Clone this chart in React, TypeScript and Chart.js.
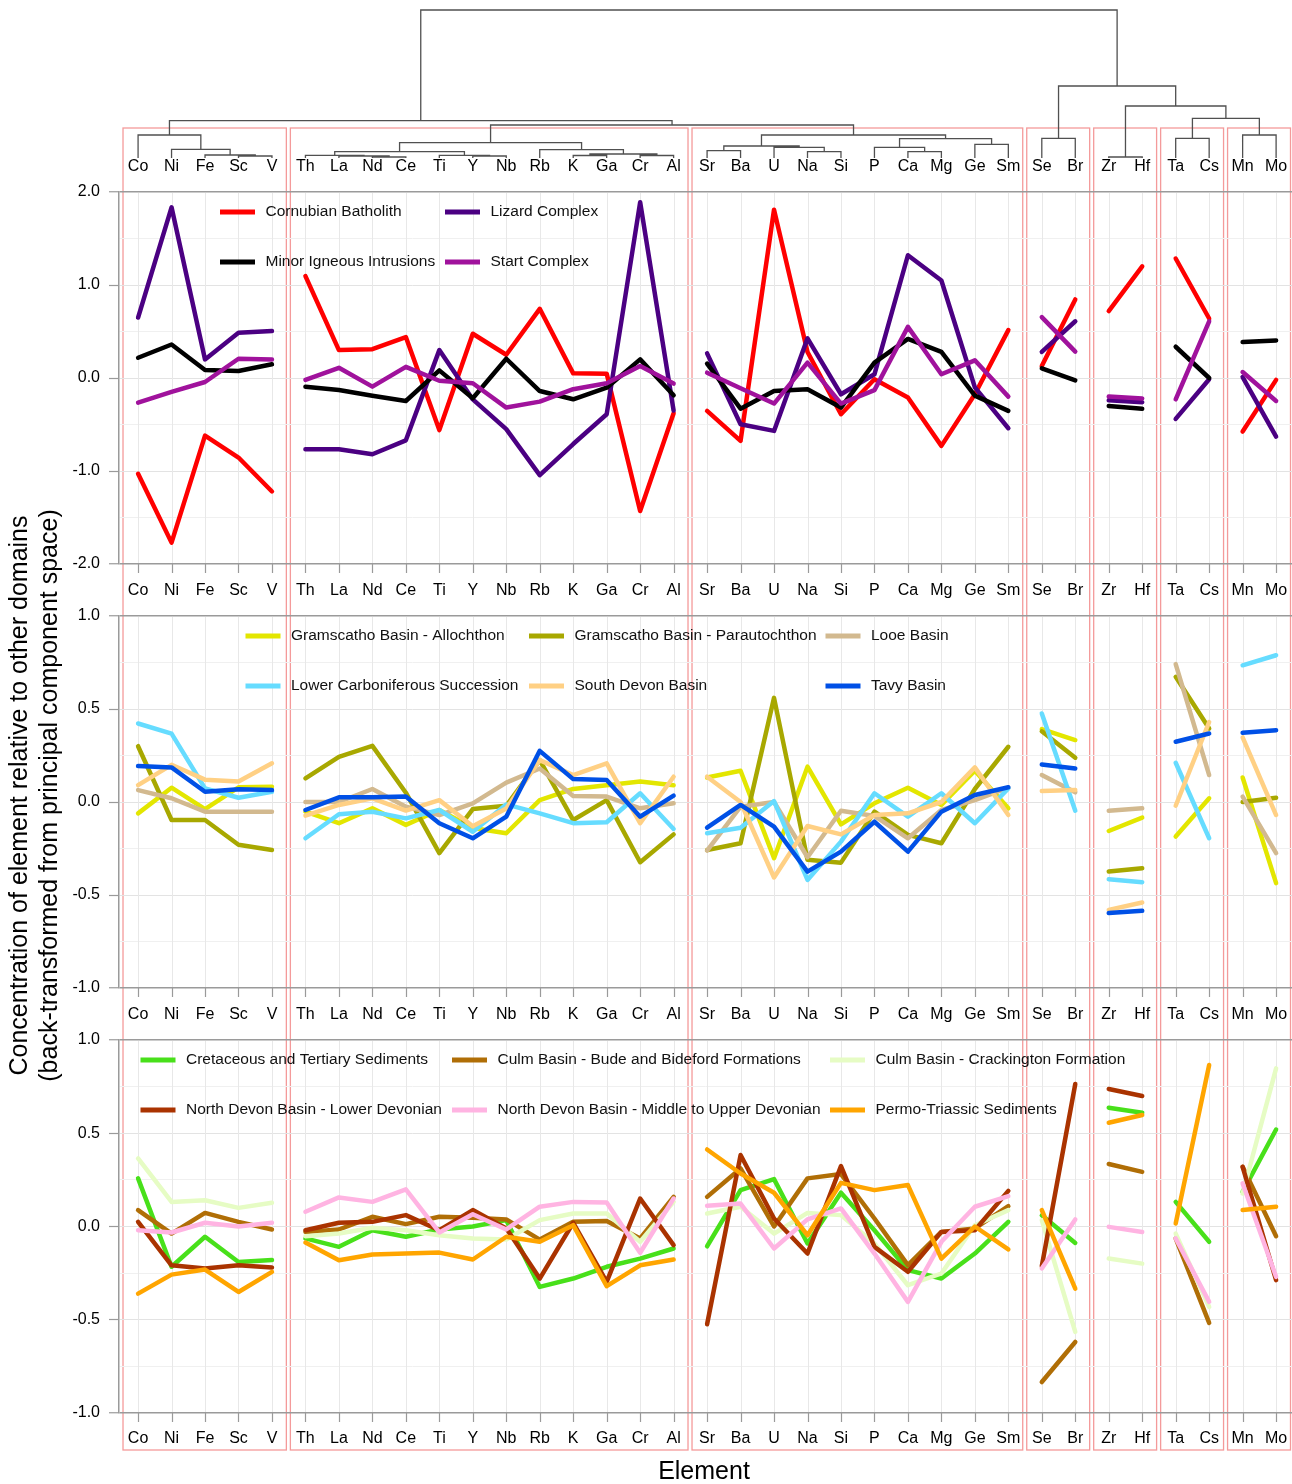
import React, { useEffect, useRef } from 'react';
import { Chart, registerables } from 'chart.js';

Chart.register(...registerables);

const FONT = '"Liberation Sans", Arial, Helvetica, sans-serif';
const AXIS_W = 119;

// ---------------- categories ----------------
const elements = [
  'Co', 'Ni', 'Fe', 'Sc', 'V',
  'Th', 'La', 'Nd', 'Ce', 'Ti', 'Y', 'Nb', 'Rb', 'K', 'Ga', 'Cr', 'Al',
  'Sr', 'Ba', 'U', 'Na', 'Si', 'P', 'Ca', 'Mg', 'Ge', 'Sm',
  'Se', 'Br',
  'Zr', 'Hf',
  'Ta', 'Cs',
  'Mn', 'Mo',
];

// element clusters (first index, last index)
const groupRanges: [number, number][] = [
  [0, 4], [5, 16], [17, 26], [27, 28], [29, 30], [31, 32], [33, 34],
];

// dendrogram merges: [left, right, height]; negative = leaf (-(index+1)), positive = earlier merge (1-based)
const dendroMerges: [number, number, number][] = [
  [-4, -5, 0.02], [-3, 1, 0.03], [-2, 2, 0.087], [-1, 3, 0.23],
  [-8, -9, 0.01], [-7, 5, 0.02], [-6, 6, 0.027], [-11, -12, 0.02], [-10, 8, 0.027], [7, 9, 0.063],
  [-14, -15, 0.025], [-16, -17, 0.025], [11, 12, 0.04], [-13, 13, 0.083], [10, 14, 0.153],
  [-18, -19, 0.073], [-21, -22, 0.063], [-20, 17, 0.107], [16, 18, 0.12],
  [-24, -25, 0.063], [-23, 20, 0.107], [-26, -27, 0.137], [21, 22, 0.193], [19, 23, 0.23],
  [15, 24, 0.33], [4, 25, 0.373],
  [-28, -29, 0.197], [-30, -31, 0.01], [-32, -33, 0.197], [-34, -35, 0.23],
  [29, 30, 0.397], [28, 31, 0.52], [27, 32, 0.72], [26, 33, 1.48],
];

// ---------------- panel 1 ----------------
const cornubianBatholith = [-1.03, -1.77, -0.62, -0.855, -1.22,
  1.095, 0.30, 0.31, 0.44, -0.56, 0.476, 0.25, 0.744, 0.05, 0.047, -1.43, -0.38,
  -0.354, -0.676, 1.81, 0.28, -0.39, -0.014, -0.21, -0.73, -0.175, 0.515,
  0.13, 0.845, 0.72, 1.2, 1.285, 0.64, -0.576, -0.02];
const lizardComplex = [0.65, 1.835, 0.20, 0.487, 0.505,
  -0.766, -0.766, -0.82, -0.67, 0.30, -0.23, -0.55, -1.045, -0.71, -0.39, 1.89, -0.35,
  0.265, -0.497, -0.569, 0.426, -0.175, 0.04, 1.32, 1.048, -0.10, -0.54,
  0.28, 0.61, -0.24, -0.26, -0.44, -0.014, 0.01, -0.63];
const minorIgneousIntrusions = [0.218, 0.36, 0.086, 0.075, 0.147,
  -0.093, -0.129, -0.19, -0.247, 0.082, -0.218, 0.207, -0.14, -0.229, -0.104, 0.20, -0.186,
  0.154, -0.33, -0.14, -0.12, -0.318, 0.165, 0.42, 0.28, -0.19, -0.354,
  0.104, -0.025, -0.30, -0.33, 0.336, 0.0, 0.386, 0.404];
const startComplex = [-0.265, -0.15, -0.043, 0.207, 0.20,
  -0.02, 0.11, -0.093, 0.12, -0.03, -0.057, -0.318, -0.254, -0.12, -0.057, 0.13, -0.06,
  0.057, -0.11, -0.275, 0.165, -0.275, -0.13, 0.55, 0.04, 0.19, -0.2,
  0.655, 0.283, -0.20, -0.22, -0.229, 0.61, 0.064, -0.247];

// ---------------- panel 2 ----------------
const gramscathoAllochthon = [-0.061, 0.077, -0.038, 0.079, 0.082,
  -0.052, -0.114, -0.034, -0.123, -0.043, -0.14, -0.168, 0.01, 0.07, 0.09, 0.11, 0.09,
  0.132, 0.168, -0.302, 0.19, -0.12, -0.007, 0.077, -0.016, 0.168, -0.034,
  0.392, 0.333, -0.156, -0.084, -0.186, 0.02, 0.132, -0.436];
const gramscathoParautochthon = [0.30, -0.097, -0.097, -0.23, -0.258,
  0.127, 0.243, 0.302, 0.05, -0.275, -0.038, -0.02, 0.225, -0.097, 0.01, -0.324, -0.174,
  -0.258, -0.222, 0.56, -0.311, -0.326, -0.052, -0.177, -0.222, 0.07, 0.297,
  0.38, 0.238, -0.374, -0.356, 0.673, 0.395, 0.0, 0.023];
const looeBasin = [0.064, 0.02, -0.052, -0.052, -0.052,
  0.0, 0.0, 0.07, -0.025, -0.07, -0.007, 0.104, 0.18, 0.032, 0.029, -0.034, -0.007,
  -0.261, -0.025, 0.0, -0.297, -0.047, -0.075, -0.195, -0.043, 0.01, 0.077,
  0.145, 0.052, -0.047, -0.034, 0.741, 0.145, 0.029, -0.275];
const lowerCarboniferous = [0.422, 0.368, 0.073, 0.023, 0.055,
  -0.195, -0.066, -0.052, -0.088, -0.043, -0.16, -0.013, -0.061, -0.114, -0.109, 0.047, -0.145,
  -0.168, -0.138, 0.005, -0.419, -0.213, 0.047, -0.079, 0.047, -0.114, 0.073,
  0.476, -0.047, -0.415, -0.431, 0.211, -0.195, 0.735, 0.789];
const southDevonBasin = [0.091, 0.2, 0.12, 0.11, 0.208,
  -0.073, -0.016, 0.02, -0.046, 0.01, -0.13, -0.035, 0.225, 0.145, 0.208, -0.114, 0.136,
  0.136, 0.0, -0.406, -0.129, -0.174, -0.07, -0.061, 0.0, 0.186, -0.07,
  0.059, 0.064, -0.58, -0.54, -0.02, 0.43, 0.347, -0.07];
const tavyBasin = [0.193, 0.186, 0.055, 0.068, 0.064,
  -0.043, 0.025, 0.025, 0.029, -0.114, -0.195, -0.079, 0.275, 0.123, 0.118, -0.079, 0.034,
  -0.138, -0.016, -0.132, -0.374, -0.267, -0.106, -0.267, -0.052, 0.038, 0.079,
  0.202, 0.18, -0.597, -0.585, 0.324, 0.368, 0.372, 0.386];

// ---------------- panel 3 ----------------
const cretaceousTertiary = [0.258, -0.216, -0.055, -0.19, -0.18,
  -0.064, -0.109, -0.02, -0.055, -0.016, 0.0, 0.034, -0.324, -0.279, -0.216, -0.172, -0.118,
  -0.106, 0.195, 0.254, -0.091, 0.181, -0.02, -0.234, -0.279, -0.145, 0.025,
  0.06, -0.088, 0.637, 0.61, 0.132, -0.082, 0.186, 0.52];
const culmBudeBideford = [0.088, -0.038, 0.073, 0.025, -0.016,
  -0.029, -0.016, 0.052, 0.013, 0.052, 0.047, 0.038, -0.07, 0.025, 0.029, -0.064, 0.159,
  0.159, 0.311, 0.0, 0.258, 0.281, 0.043, -0.207, -0.029, -0.01, 0.109,
  -0.834, -0.619, 0.335, 0.293, -0.064, -0.517, 0.32, -0.052];
const culmCrackington = [0.365, 0.132, 0.141, 0.1, 0.127,
  -0.052, -0.038, -0.007, -0.02, -0.047, -0.064, -0.07, 0.034, 0.07, 0.07, -0.082, 0.132,
  0.07, 0.106, -0.038, 0.073, 0.061, -0.091, -0.315, -0.252, 0.007, 0.088,
  0.034, -0.565, -0.172, -0.199, -0.038, -0.431, 0.177, 0.848];
const northDevonLower = [0.025, -0.208, -0.225, -0.208, -0.22,
  -0.02, 0.02, 0.025, 0.061, -0.02, 0.088, -0.01, -0.279, 0.02, -0.297, 0.15, -0.1,
  -0.524, 0.383, 0.043, -0.145, 0.324, -0.109, -0.243, -0.029, -0.02, 0.191,
  -0.213, 0.764, 0.737, 0.70, null, null, 0.32, -0.288];
const northDevonMiddleUpper = [-0.02, -0.032, 0.02, 0.0, 0.02,
  0.079, 0.156, 0.132, 0.199, -0.032, 0.066, -0.016, 0.106, 0.132, 0.129, -0.141, 0.15,
  0.111, 0.123, -0.118, 0.038, 0.097, -0.145, -0.404, -0.082, 0.106, 0.163,
  -0.225, 0.038, -0.002, -0.029, -0.064, -0.404, 0.231, -0.27];
const permoTriassic = [-0.36, -0.258, -0.231, -0.351, -0.243,
  -0.086, -0.181, -0.15, -0.145, -0.14, -0.177, -0.055, -0.082, 0.007, -0.32, -0.208, -0.177,
  0.413, 0.284, 0.181, -0.047, 0.234, 0.195, 0.222, -0.172, 0.0, -0.123,
  0.088, -0.333, 0.556, 0.598, 0.016, 0.866, 0.088, 0.106];

// ---------------- tick labels ----------------
const panel1Ticks = { min: -2, max: 2, step: 0.5, labelStep: 1 };
const panel23Ticks = { min: -1, max: 1, step: 0.25, labelStep: 0.5 };

const yTitle1 = 'Concentration of element relative to other domains';
const yTitle2 = '(back-transformed from principal component space)';
const xTitle = 'Element';

type Series = { name: string; values: (number | null)[]; color: string };
type Panel = { axis: string; series: Series[]; legendCols: number[] };

const panels: Panel[] = [
  {
    axis: 'y1', legendCols: [220, 445],
    series: [
      { name: 'Cornubian Batholith', values: cornubianBatholith, color: '#ff0000' },
      { name: 'Lizard Complex', values: lizardComplex, color: '#4b0082' },
      { name: 'Minor Igneous Intrusions', values: minorIgneousIntrusions, color: '#000000' },
      { name: 'Start Complex', values: startComplex, color: '#a0129c' },
    ],
  },
  {
    axis: 'y2', legendCols: [245.5, 529, 825.5],
    series: [
      { name: 'Gramscatho Basin - Allochthon', values: gramscathoAllochthon, color: '#e3e600' },
      { name: 'Gramscatho Basin - Parautochthon', values: gramscathoParautochthon, color: '#a8a800' },
      { name: 'Looe Basin', values: looeBasin, color: '#d2b98f' },
      { name: 'Lower Carboniferous Succession', values: lowerCarboniferous, color: '#66dcff' },
      { name: 'South Devon Basin', values: southDevonBasin, color: '#ffd084' },
      { name: 'Tavy Basin', values: tavyBasin, color: '#0050e6' },
    ],
  },
  {
    axis: 'y3', legendCols: [140.5, 452, 830],
    series: [
      { name: 'Cretaceous and Tertiary Sediments', values: cretaceousTertiary, color: '#48e01a' },
      { name: 'Culm Basin - Bude and Bideford Formations', values: culmBudeBideford, color: '#b06e06' },
      { name: 'Culm Basin - Crackington Formation', values: culmCrackington, color: '#e6fcc4' },
      { name: 'North Devon Basin - Lower Devonian', values: northDevonLower, color: '#aa3300' },
      { name: 'North Devon Basin - Middle to Upper Devonian', values: northDevonMiddleUpper, color: '#ffb4e2' },
      { name: 'Permo-Triassic Sediments', values: permoTriassic, color: '#ffa500' },
    ],
  },
];

// ---------------- helpers ----------------
const groupEnds = groupRanges.map((g) => g[1]);

function seriesPoints(vals: (number | null)[]) {
  const pts: { x: number; y: number | null }[] = [];
  vals.forEach((v, i) => {
    pts.push({ x: i, y: v });
    if (groupEnds.includes(i) && i < elements.length - 1) pts.push({ x: i + 0.5, y: null });
  });
  return pts;
}

function dendroPoints() {
  const pos: number[] = [];
  const ht: number[] = [];
  const pts: { x: number; y: number | null }[] = [];
  const where = (c: number) => (c < 0 ? { x: -c - 1, h: 0 } : { x: pos[c - 1], h: ht[c - 1] });
  dendroMerges.forEach(([a, b, h], k) => {
    const A = where(a);
    const B = where(b);
    pts.push({ x: A.x, y: A.h }, { x: A.x, y: h }, { x: B.x, y: h }, { x: B.x, y: B.h }, { x: B.x, y: null });
    pos[k] = (A.x + B.x) / 2;
    ht[k] = h;
  });
  return pts;
}

const isMult = (v: number, s: number) => Math.abs(v / s - Math.round(v / s)) < 1e-6;

const fixWidth = (s: any) => {
  s.width = AXIS_W;
  s.paddingTop = 0;
  s.paddingBottom = 0;
};

function panelAxis(t: { min: number; max: number; step: number; labelStep: number }, weight: number, stackWeight: number) {
  const frame = (v: number) => Math.abs(Math.abs(v) - t.max) < 1e-6;
  return {
    type: 'linear', axis: 'y', position: 'left', stack: 'v', stackWeight, weight,
    min: t.min, max: t.max,
    afterFit: fixWidth,
    border: { display: true, color: '#9a9a9a', width: 1.5 },
    grid: {
      color: (c: any) => (frame(c.tick.value) ? '#9a9a9a' : isMult(c.tick.value, t.labelStep) ? '#e3e3e3' : '#f0f0f0'),
      lineWidth: (c: any) => (frame(c.tick.value) ? 1.5 : 1),
      tickLength: 10,
      tickColor: (c: any) => (isMult(c.tick.value, t.labelStep) ? '#9a9a9a' : 'rgba(0,0,0,0)'),
      tickWidth: 1.2,
    },
    ticks: {
      stepSize: t.step, autoSkip: false, padding: 9, color: '#000',
      font: { family: FONT, size: 16 },
      callback: (v: any) => (isMult(Number(v), t.labelStep) ? Number(v).toFixed(1) : ''),
    },
  };
}

function spacer(weight: number, stackWeight: number, extra: any = {}) {
  return {
    type: 'linear', axis: 'y', position: 'left', stack: 'v', stackWeight, weight, display: false,
    afterFit: fixWidth, ...extra,
  };
}

const decorPlugin = {
  id: 'decor',
  beforeDraw(chart: any) {
    const { ctx } = chart;
    const x = chart.scales.x;
    const y1 = chart.scales.y1;
    const y3 = chart.scales.y3;
    const top = y1.top - 64;
    const bottom = y3.bottom + 37;
    ctx.save();
    ctx.strokeStyle = 'rgba(238,100,100,0.65)';
    ctx.lineWidth = 1.3;
    groupRanges.forEach(([a, b]) => {
      const l = x.getPixelForValue(a - 0.45);
      const r = x.getPixelForValue(b + 0.43);
      ctx.strokeRect(l, top, r - l, bottom - top);
    });
    ctx.restore();
  },
  beforeDatasetsDraw(chart: any) {
    const { ctx } = chart;
    const x = chart.scales.x;
    ctx.save();
    ctx.strokeStyle = '#e8e8e8';
    ctx.lineWidth = 1;
    panels.forEach((p) => {
      const s = chart.scales[p.axis];
      elements.forEach((_, i) => {
        const px = Math.round(x.getPixelForValue(i)) + 0.5;
        ctx.beginPath();
        ctx.moveTo(px, s.top + 1);
        ctx.lineTo(px, s.bottom - 1);
        ctx.stroke();
      });
    });
    ctx.restore();
  },
  afterDatasetsDraw(chart: any) {
    const { ctx } = chart;
    const x = chart.scales.x;
    ctx.save();
    // element labels and tick marks
    ctx.font = `16px ${FONT}`;
    ctx.fillStyle = '#000';
    ctx.textAlign = 'center';
    ctx.textBaseline = 'middle';
    const rows: number[] = panels.map((p) => chart.scales[p.axis].top - 25);
    rows.push(chart.scales.y3.bottom + 26);
    rows.forEach((ry) => {
      elements.forEach((e, i) => ctx.fillText(e, x.getPixelForValue(i), ry));
    });
    ctx.strokeStyle = '#9a9a9a';
    ctx.lineWidth = 1.2;
    panels.forEach((p) => {
      const s = chart.scales[p.axis];
      elements.forEach((_, i) => {
        const px = Math.round(x.getPixelForValue(i)) + 0.5;
        ctx.beginPath();
        ctx.moveTo(px, s.bottom);
        ctx.lineTo(px, s.bottom + 9);
        ctx.stroke();
      });
    });
    // legends
    ctx.font = `15.5px ${FONT}`;
    ctx.textAlign = 'left';
    ctx.fillStyle = '#111';
    panels.forEach((p) => {
      const s = chart.scales[p.axis];
      const nc = p.legendCols.length;
      p.series.forEach((ser, k) => {
        const col = k % nc;
        const row = Math.floor(k / nc);
        const yy = s.top + 20 + row * 50;
        const x0 = p.legendCols[col];
        ctx.strokeStyle = ser.color;
        ctx.lineWidth = 5;
        ctx.lineCap = 'butt';
        ctx.beginPath();
        ctx.moveTo(x0, yy);
        ctx.lineTo(x0 + 35, yy);
        ctx.stroke();
        ctx.fillText(ser.name, x0 + 45.5, yy);
      });
    });
    // titles
    ctx.fillStyle = '#000';
    ctx.font = `25px ${FONT}`;
    ctx.textAlign = 'center';
    ctx.fillText(xTitle, 704, chart.scales.y3.bottom + 59);
    const cy = (chart.scales.y1.top + chart.scales.y3.bottom) / 2 - 7;
    [[yTitle1, 20], [yTitle2, 50]].forEach(([txt, tx]) => {
      ctx.save();
      ctx.translate(tx as number, cy);
      ctx.rotate(-Math.PI / 2);
      ctx.fillText(txt as string, 0, 0);
      ctx.restore();
    });
    ctx.restore();
  },
};

export default function App() {
  const ref = useRef<HTMLCanvasElement | null>(null);

  useEffect(() => {
    const canvas = ref.current;
    if (!canvas) return;
    Chart.defaults.font.family = FONT;

    const datasets: any[] = [];
    let total = 0;
    panels.forEach((p) => { total += p.series.length; });
    let idx = 0;
    panels.forEach((p) => {
      p.series.forEach((s) => {
        datasets.push({
          label: s.name,
          data: seriesPoints(s.values),
          xAxisID: 'x',
          yAxisID: p.axis,
          borderColor: s.color,
          backgroundColor: s.color,
          borderWidth: 4.5,
          pointRadius: 0,
          borderCapStyle: 'round',
          borderJoinStyle: 'round',
          tension: 0,
          spanGaps: false,
          fill: false,
          order: total - idx,
        });
        idx++;
      });
    });
    datasets.push({
      label: 'dendrogram',
      data: dendroPoints(),
      xAxisID: 'x',
      yAxisID: 'yd',
      borderColor: '#505050',
      borderWidth: 1.3,
      pointRadius: 0,
      tension: 0,
      spanGaps: false,
      fill: false,
      order: total + 1,
    });

    const chart = new Chart(canvas, {
      type: 'line',
      data: { datasets },
      plugins: [decorPlugin],
      options: {
        responsive: false,
        animation: false,
        events: [],
        layout: { padding: { top: 8, right: 0, bottom: 22, left: 0 }, autoPadding: false } as any,
        plugins: { legend: { display: false }, tooltip: { enabled: false }, title: { display: false } },
        scales: {
          x: { type: 'linear', min: -0.57, max: 34.475, display: false },
          yd: spacer(8, 150, { min: 0, max: 1.5 }),
          g0: spacer(7, 34),
          y1: panelAxis(panel1Ticks, 6, 372),
          g1: spacer(5, 52),
          y2: panelAxis(panel23Ticks, 4, 372),
          g2: spacer(3, 52),
          y3: panelAxis(panel23Ticks, 2, 373),
          g3: spacer(1, 49),
        } as any,
      },
    } as any);

    return () => chart.destroy();
  }, []);

  return (
    <div style={{ position: 'absolute', left: 0, top: 0, width: 1292, height: 1484, background: '#fff' }}>
      <canvas ref={ref} width={1292} height={1484} style={{ display: 'block', width: 1292, height: 1484 }} />
    </div>
  );
}
